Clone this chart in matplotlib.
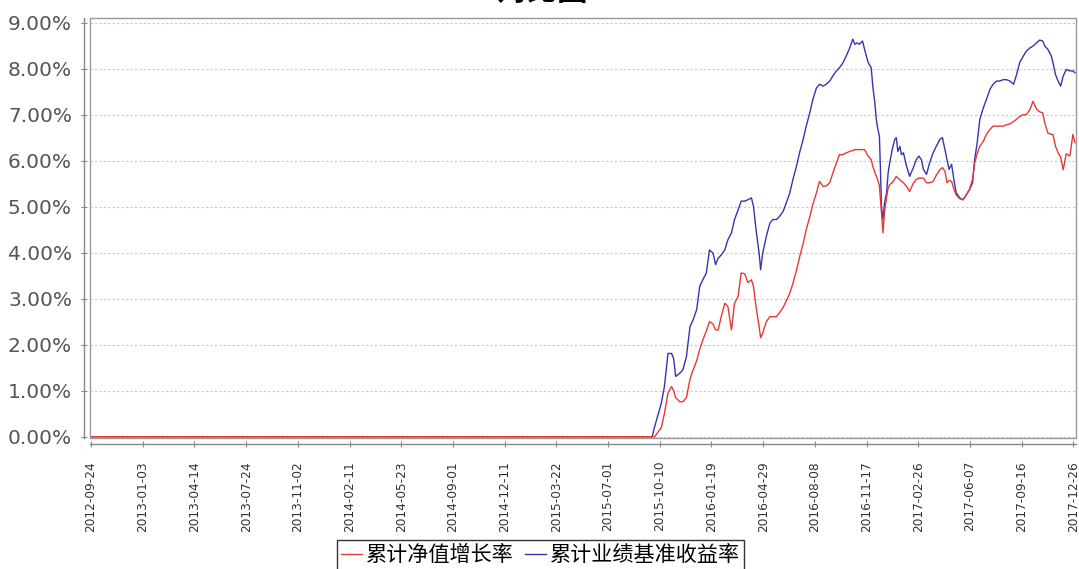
import matplotlib
matplotlib.use("Agg")
import matplotlib.pyplot as plt
from matplotlib.patches import Rectangle
from matplotlib.ticker import FuncFormatter, FixedLocator, FixedFormatter
import matplotlib.dates as mdates
import pandas as pd

title = "对比图"
series_names = ["累计净值增长率", "累计业绩基准收益率"]

dates = [
    "2012-09-24", "2015-09-25", "2015-09-30", "2015-10-13", "2015-10-19", "2015-10-26", "2015-11-02", "2015-11-06", "2015-11-10", "2015-11-18",
    "2015-11-24", "2015-12-01", "2015-12-08", "2015-12-14", "2015-12-21", "2015-12-27", "2016-01-02", "2016-01-09", "2016-01-15", "2016-01-22",
    "2016-01-27", "2016-02-01", "2016-02-07", "2016-02-14", "2016-02-20", "2016-02-27", "2016-03-04", "2016-03-11", "2016-03-17", "2016-03-24",
    "2016-03-30", "2016-04-06", "2016-04-10", "2016-04-15", "2016-04-21", "2016-04-24", "2016-04-28", "2016-05-05", "2016-05-12", "2016-05-18",
    "2016-05-25", "2016-05-31", "2016-06-07", "2016-06-13", "2016-06-20", "2016-06-26", "2016-07-03", "2016-07-09", "2016-07-16", "2016-07-22",
    "2016-07-29", "2016-08-04", "2016-08-11", "2016-08-17", "2016-08-24", "2016-08-30", "2016-09-06", "2016-09-12", "2016-09-19", "2016-09-25",
    "2016-10-02", "2016-10-08", "2016-10-15", "2016-10-21", "2016-10-25", "2016-10-29", "2016-11-03", "2016-11-09", "2016-11-13", "2016-11-20",
    "2016-11-26", "2016-11-29", "2016-12-03", "2016-12-06", "2016-12-09", "2016-12-12", "2016-12-14", "2016-12-16", "2016-12-19", "2016-12-22",
    "2016-12-26", "2016-12-29", "2017-01-01", "2017-01-06", "2017-01-11", "2017-01-14", "2017-01-17", "2017-01-21", "2017-01-24", "2017-01-28",
    "2017-02-03", "2017-02-09", "2017-02-16", "2017-02-22", "2017-02-27", "2017-03-04", "2017-03-08", "2017-03-14", "2017-03-20", "2017-03-27",
    "2017-04-02", "2017-04-09", "2017-04-14", "2017-04-19", "2017-04-23", "2017-04-27", "2017-05-02", "2017-05-06", "2017-05-11", "2017-05-18",
    "2017-05-24", "2017-05-31", "2017-06-06", "2017-06-12", "2017-06-16", "2017-06-21", "2017-06-26", "2017-07-03", "2017-07-09", "2017-07-16",
    "2017-07-22", "2017-07-29", "2017-08-04", "2017-08-11", "2017-08-17", "2017-08-24", "2017-08-31", "2017-09-06", "2017-09-12", "2017-09-19",
    "2017-09-25", "2017-10-02", "2017-10-08", "2017-10-15", "2017-10-21", "2017-10-27", "2017-10-31", "2017-11-06", "2017-11-13", "2017-11-16",
    "2017-11-21", "2017-11-26", "2017-12-01", "2017-12-06", "2017-12-12", "2017-12-19", "2017-12-25", "2017-12-29",
]

benchmark = [
    0, 0, 0.22, 0.73, 1.09, 1.81, 1.81, 1.70, 1.31, 1.38,
    1.45, 1.74, 2.39, 2.54, 2.76, 3.27, 3.41, 3.56, 4.06, 3.99,
    3.74, 3.88, 3.95, 4.06, 4.28, 4.43, 4.72, 4.93, 5.12, 5.12,
    5.15, 5.19, 5.01, 4.50, 3.99, 3.63, 3.99, 4.35, 4.64, 4.72,
    4.72, 4.79, 4.90, 5.08, 5.30, 5.59, 5.88, 6.17, 6.46, 6.75,
    7.04, 7.33, 7.58, 7.66, 7.62, 7.66, 7.73, 7.84, 7.95, 8.02,
    8.13, 8.27, 8.45, 8.64, 8.53, 8.56, 8.53, 8.60, 8.42, 8.13,
    8.02, 7.62, 7.26, 6.89, 6.68, 6.53, 5.81, 5.01, 4.72, 5.08,
    5.30, 5.73, 5.95, 6.24, 6.46, 6.50, 6.20, 6.31, 6.13, 6.17,
    5.88, 5.66, 5.84, 6.02, 6.10, 6.02, 5.81, 5.70, 5.95, 6.17,
    6.31, 6.46, 6.50, 6.24, 6.02, 5.81, 5.92, 5.62, 5.30, 5.19,
    5.15, 5.26, 5.37, 5.52, 6.02, 6.39, 6.89, 7.15, 7.33, 7.55,
    7.66, 7.73, 7.73, 7.76, 7.76, 7.73, 7.66, 7.87, 8.13, 8.27,
    8.38, 8.45, 8.49, 8.56, 8.62, 8.60, 8.49, 8.42, 8.27, 8.13,
    7.87, 7.73, 7.62, 7.84, 7.98, 7.95, 7.95, 7.91,
]

nav_growth = [
    0, 0, 0, 0.20, 0.50, 0.95, 1.09, 1.00, 0.85, 0.76,
    0.76, 0.85, 1.25, 1.45, 1.65, 1.90, 2.10, 2.30, 2.50, 2.45,
    2.32, 2.32, 2.61, 2.90, 2.83, 2.32, 2.90, 3.05, 3.56, 3.54,
    3.35, 3.41, 3.27, 2.83, 2.39, 2.15, 2.25, 2.50, 2.61, 2.61,
    2.61, 2.70, 2.81, 2.95, 3.12, 3.33, 3.62, 3.90, 4.20, 4.50,
    4.78, 5.05, 5.30, 5.55, 5.44, 5.45, 5.52, 5.73, 5.95, 6.13,
    6.13, 6.17, 6.20, 6.22, 6.24, 6.24, 6.24, 6.24, 6.24, 6.10,
    6.02, 5.88, 5.75, 5.66, 5.58, 5.45, 5.15, 4.85, 4.43, 4.90,
    5.20, 5.40, 5.48, 5.52, 5.60, 5.66, 5.62, 5.59, 5.55, 5.52,
    5.44, 5.33, 5.50, 5.59, 5.62, 5.62, 5.62, 5.52, 5.52, 5.55,
    5.68, 5.80, 5.85, 5.77, 5.52, 5.57, 5.55, 5.40, 5.25, 5.17,
    5.15, 5.26, 5.38, 5.60, 5.95, 6.15, 6.31, 6.42, 6.57, 6.68,
    6.75, 6.75, 6.75, 6.75, 6.78, 6.80, 6.85, 6.90, 6.96, 7.00,
    7.00, 7.11, 7.29, 7.12, 7.06, 7.04, 6.82, 6.60, 6.57, 6.57,
    6.31, 6.17, 6.08, 5.80, 6.15, 6.10, 6.57, 6.39,
]

x_ticks = [
    "2012-09-24", "2013-01-03", "2013-04-14", "2013-07-24", "2013-11-02",
    "2014-02-11", "2014-05-23", "2014-09-01", "2014-12-11", "2015-03-22",
    "2015-07-01", "2015-10-10", "2016-01-19", "2016-04-29", "2016-08-08",
    "2016-11-17", "2017-02-26", "2017-06-07", "2017-09-16", "2017-12-26",
]
y_ticks = [0, 1, 2, 3, 4, 5, 6, 7, 8, 9]

plt.rcParams['font.family'] = ['DejaVu Sans']
cjk = ['Noto Sans CJK SC', 'DejaVu Sans']

fig = plt.figure(figsize=(10.79, 5.69), dpi=100)
W, H = 1079, 569
ax = fig.add_axes([90 / W, 1 - 438 / H, (1076 - 90) / W, (438 - 18) / H])

x = pd.to_datetime(dates)
red = '#e53935'
blue = '#3535b0'
l_bench, = ax.plot(x, benchmark, color=blue, lw=1.0, zorder=3)
l_nav, = ax.plot(x, nav_growth, color=red, lw=1.0, zorder=4)

ax.set_xlim(pd.Timestamp("2012-09-22"), pd.Timestamp("2017-12-31"))
ax.set_ylim(-0.028, 9.10)

xt_num = mdates.date2num(pd.to_datetime(x_ticks).to_pydatetime())
ax.xaxis.set_major_locator(FixedLocator(xt_num))
ax.xaxis.set_major_formatter(FixedFormatter(x_ticks))
ax.tick_params(axis='x', labelrotation=90, labelsize=8.7, labelcolor='#333333', pad=10.5)

ax.yaxis.set_major_locator(FixedLocator(y_ticks))
ax.yaxis.set_major_formatter(FuncFormatter(lambda v, p: f"{v:.2f}%"))
ax.tick_params(axis='y', labelsize=14.5, labelcolor='#555555', pad=7.0)

ax.grid(axis='y', color='#c8c8c8', linestyle=(0, (2, 2)), lw=0.8)
ax.set_axisbelow(True)

for s in ['top', 'right']:
    ax.spines[s].set_visible(False)
for s in ['left', 'bottom']:
    ax.spines[s].set_position(('outward', 4))
    ax.spines[s].set_color('#888888')
    ax.spines[s].set_linewidth(1.0)
ax.tick_params(axis='both', direction='inout', length=4, color='#888888', width=0.8)

ax.add_patch(Rectangle((0, 0), 1, 1, transform=ax.transAxes, fill=False,
                       edgecolor='#999999', lw=1.0, clip_on=False, zorder=5))

fig.text(0.502, 1 - 7 / H, title, ha='center', va='bottom', fontsize=22,
         fontweight='bold', family=cjk)

leg = fig.legend([l_nav, l_bench], series_names, loc='upper center',
                 bbox_to_anchor=(0.501, 1 - 540 / H), ncol=2, frameon=True,
                 fancybox=False, edgecolor='black', prop={'family': cjk, 'size': 15.2},
                 handlelength=1.0, handletextpad=0.2, columnspacing=0.5,
                 borderpad=0.2, borderaxespad=0)
leg.get_frame().set_linewidth(1.0)

fig.savefig("out.png", dpi=100)
